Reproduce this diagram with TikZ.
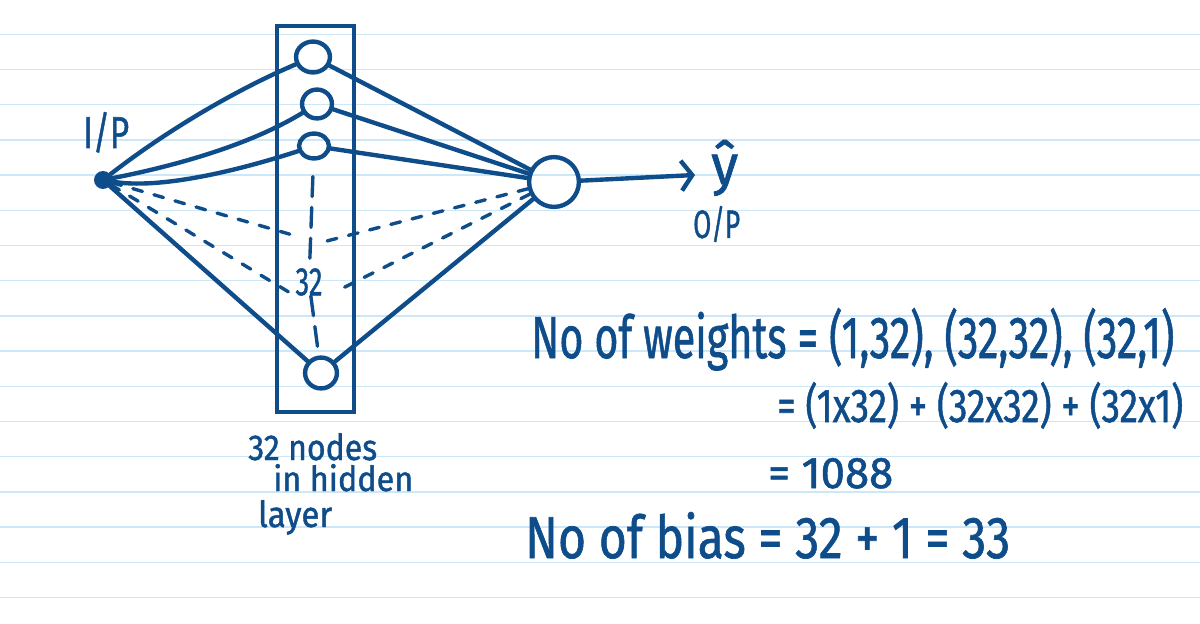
\documentclass[tikz,border=0pt]{standalone}
\usepackage{fontspec}
\setmainfont{Fira Sans}[FakeBold=1.2]
\usetikzlibrary{shapes.geometric,arrows.meta}
\definecolor{ink}{RGB}{14,76,138}
\definecolor{rulecol}{RGB}{204,231,248}
\newcommand{\hw}[3]{\resizebox{#1bp}{#2bp}{#3}}
\begin{document}
\begin{tikzpicture}[x=1bp,y=-1bp,
  wire/.style={draw=ink, line width=4.4, line cap=round, line join=round},
  dashwire/.style={wire, line width=3.4, dash pattern=on 10 off 12},
  vdash/.style={wire, line width=3.4, dash pattern=on 20 off 11},
  hid/.style={ellipse, draw=ink, line width=4.4, inner sep=0},
  txt/.style={text=ink, inner sep=0, anchor=base west}]
\useasboundingbox (0,0) rectangle (1200,624);
\fill[white] (0,0) rectangle (1200,624);
\foreach \k in {0,...,16} \draw[rulecol, line width=1.3] (0,34.3+35.2*\k) -- (1200,34.3+35.2*\k);

% hidden layer box
\node[draw=ink, line width=4.4, minimum width=77, minimum height=388, inner sep=0] (layer) at (315.5,219) {};

% nodes
\node[fill=ink, circle, inner sep=0, minimum size=18] (in) at (103,180) {};
\node[hid, minimum width=34, minimum height=31] (h1) at (313,57) {};
\node[hid, minimum width=30, minimum height=29] (h2) at (317,104) {};
\node[hid, minimum width=30, minimum height=25] (h3) at (314,146) {};
\node[hid, minimum width=32, minimum height=31] (h4) at (321,373) {};
\node[circle, draw=ink, line width=4.4, minimum size=50, inner sep=0] (out) at (554,182) {};
\node[txt, anchor=center] (n32) at (309,282) {\hw{27}{27}{32}};

% solid connections
\draw[wire] (in) .. controls (170,128) and (240,88) .. (h1);
\draw[wire] (in) .. controls (175,166) and (250,145) .. (h2);
\draw[wire] (in) .. controls (160,190) and (240,170) .. (h3);
\draw[wire] (in) -- (h4);
\draw[wire] (h1) -- (out);
\draw[wire] (h2) -- (out);
\draw[wire] (h3) -- (out);
\draw[wire] (h4) -- (out);

% dashed connections
\coordinate (dUL) at (296,236);
\coordinate (dLL) at (292,294);
\coordinate (dUR) at (323,242);
\coordinate (dLR) at (343,288);
\draw[dashwire] (in) -- (dUL);
\draw[dashwire] (in) -- (dLL);
\draw[dashwire] (out) -- (dUR);
\draw[dashwire] (out) -- (dLR);
\draw[vdash, shorten <=16] (h3) -- (n32);
\draw[vdash, shorten >=8] (n32) -- (h4);

% output arrow
\coordinate (tip) at (695,175);
\draw[wire, -{Straight Barb[length=11,width=30]}] (out) -- (tip);

% labels
\node[txt] (tIP) at (83,148) {\hw{46}{36}{I/P}};
\node[txt] (yhat) at (711,184) {\hw{27}{44}{ŷ}};
\node[txt] (tOP) at (693,238) {\hw{47}{32}{O/P}};
\node[txt] (l1) at (248,460) {\hw{129}{27}{32 nodes}};
\node[txt] (l2) at (273,491) {\hw{140}{27}{in hidden}};
\node[txt] (l3) at (258,527) {\hw{74}{27}{layer}};
\node[txt] (w1) at (531,358) {\hw{643}{50}{No of weights = (1,32), (32,32), (32,1)}};
\node[txt] (w2) at (777,422) {\hw{406}{40}{= (1x32) + (32x32) + (32x1)}};
\node[txt] (w3) at (768,488) {\hw{125}{30}{= 1088}};
\node[txt] (b1) at (525,558) {\hw{485}{46}{No of bias = 32 + 1 = 33}};
\end{tikzpicture}
\end{document}
